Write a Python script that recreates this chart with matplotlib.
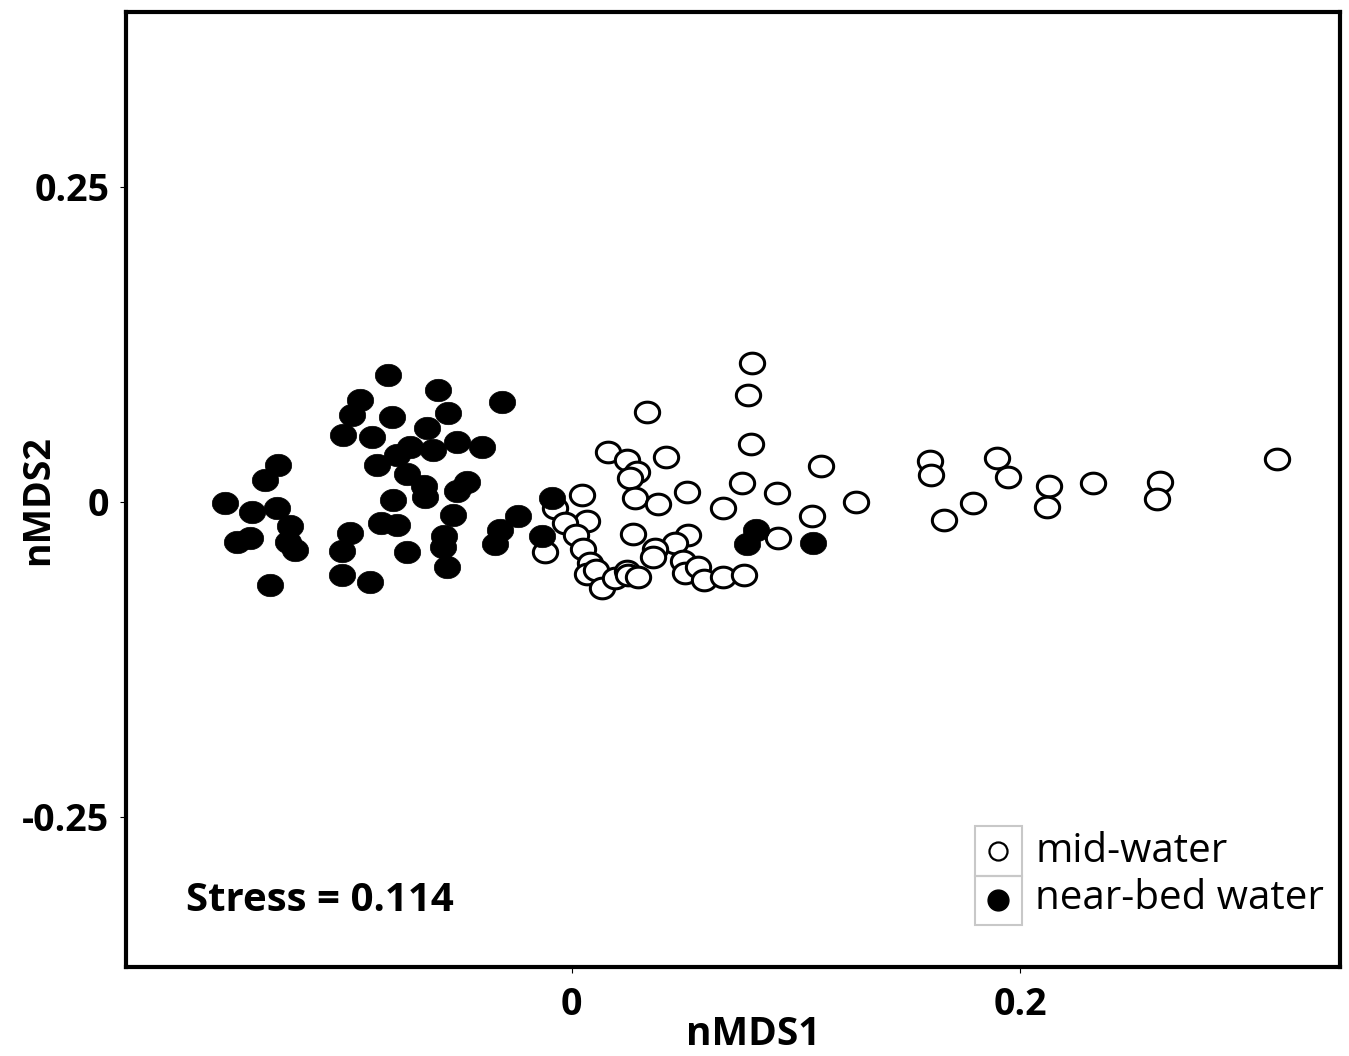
import numpy as np
import matplotlib
matplotlib.use("Agg")
import matplotlib.pyplot as plt
from matplotlib.path import Path
from matplotlib.patches import Rectangle

plt.rcParams['font.family'] = ['Open Sans', 'DejaVu Sans']

# nMDS scores
mid_x = [0.0805, 0.0787, 0.0337, 0.0800, 0.0163, 0.0247, 0.0421, 0.0292, 0.0261, 0.1113,
         0.0760, 0.0515, 0.0916, 0.0047, 0.0283, 0.0386, 0.0676, -0.0074, 0.1072, 0.0069,
         -0.0029, 0.0274, 0.0520, 0.0020, 0.0462, 0.0921, -0.0118, 0.0051, 0.0372, 0.0363,
         0.0082, 0.0069, 0.0109, 0.0136, 0.0194, 0.0247, 0.0252, 0.0297, 0.0497, 0.0506,
         0.0564, 0.0591, 0.0676, 0.0769, 0.1269, 0.1599, 0.1603, 0.1661, 0.1790, 0.1897,
         0.1946, 0.2129, 0.2120, 0.2326, 0.2624, 0.2611, 0.3146]
mid_y = [0.1100, 0.0845, 0.0710, 0.0456, 0.0393, 0.0329, 0.0353, 0.0234, 0.0187, 0.0282,
         0.0147, 0.0075, 0.0067, 0.0052, 0.0028, -0.0020, -0.0052, -0.0052, -0.0115, -0.0155,
         -0.0171, -0.0258, -0.0266, -0.0266, -0.0329, -0.0290, -0.0401, -0.0377, -0.0377, -0.0440,
         -0.0488, -0.0575, -0.0544, -0.0687, -0.0607, -0.0552, -0.0583, -0.0599, -0.0472, -0.0567,
         -0.0520, -0.0623, -0.0599, -0.0583, -0.0004, 0.0321, 0.0210, -0.0147, -0.0012, 0.0345,
         0.0194, 0.0123, -0.0044, 0.0147, 0.0155, 0.0020, 0.0337]

bed_x = [-0.1545, -0.1425, -0.1492, -0.1434, -0.1367, -0.1309, -0.1313, -0.1255, -0.1264, -0.1233,
         -0.1344, -0.0988, -0.1023, -0.1023, -0.0899, -0.0818, -0.0595, -0.0310, -0.0943, -0.0551,
         -0.0979, -0.0800, -0.0644, -0.1019, -0.0890, -0.0511, -0.0399, -0.0618, -0.0720, -0.0778,
         -0.0867, -0.0734, -0.0658, -0.0653, -0.0466, -0.0511, -0.0528, -0.0569, -0.0573, -0.0555,
         -0.0796, -0.0849, -0.0778, -0.0734, -0.0239, -0.0319, -0.0341, -0.0087, -0.0132, 0.0823,
         0.0783, 0.1077]
bed_y = [-0.0012, -0.0083, -0.0321, -0.0290, 0.0171, 0.0290, -0.0052, -0.0194, -0.0321, -0.0385,
         -0.0663, -0.0250, -0.0393, -0.0583, -0.0639, 0.1004, 0.0885, 0.0790, 0.0806, 0.0702,
         0.0687, 0.0671, 0.0583, 0.0528, 0.0512, 0.0472, 0.0433, 0.0409, 0.0433, 0.0369,
         0.0290, 0.0218, 0.0123, 0.0036, 0.0155, 0.0083, -0.0107, -0.0274, -0.0361, -0.0520,
         0.0012, -0.0171, -0.0187, -0.0401, -0.0115, -0.0226, -0.0337, 0.0028, -0.0274, -0.0226,
         -0.0337, -0.0329]

stress = 0.114

# slightly flattened circle, like the original
t = np.linspace(0, 2 * np.pi, 60)
ell = Path(np.column_stack([np.cos(t), 0.85 * np.sin(t)]), closed=True)

fig = plt.figure(figsize=(13.49, 10.56), dpi=100)
ax = fig.add_axes([0.0934, 0.0843, 0.9, 0.9043])

ax.scatter(mid_x, mid_y, marker=ell, s=17.5**2, facecolor='white', edgecolor='black', linewidth=2.2, zorder=3)
ax.scatter(bed_x, bed_y, marker=ell, s=19**2, facecolor='black', edgecolor='black', linewidth=0.5, zorder=4)

ax.set_xlim(-0.1987, 0.3427)
ax.set_ylim(-0.3694, 0.3885)
ax.set_xticks([0, 0.2])
ax.set_xticklabels(['0', '0.2'])
ax.set_yticks([-0.25, 0, 0.25])
ax.set_yticklabels(['-0.25', '0', '0.25'])
ax.tick_params(length=4, width=0.8, labelsize=27, pad=8)
ax.tick_params(axis='x', pad=10)
for lab in ax.get_xticklabels() + ax.get_yticklabels():
    lab.set_fontweight('bold')
for sp in ax.spines.values():
    sp.set_linewidth(3)

ax.text(0.517, -0.071, 'nMDS1', transform=ax.transAxes, fontsize=28, fontweight='bold',
        ha='center', va='center')
ax.text(-0.0725, 0.489, 'nMDS2', transform=ax.transAxes, fontsize=27, fontweight='bold',
        ha='center', va='center', rotation=90)

ax.text(0.0494, 0.07, 'Stress = %.3f' % stress, transform=ax.transAxes,
        fontsize=29, fontweight='bold', ha='left', va='center')

# legend drawn as a small two-cell box
gray = '#c8c8c8'
ax.add_patch(Rectangle((0.699, 0.044), 0.039, 0.0516, transform=ax.transAxes,
                       fill=False, edgecolor=gray, linewidth=1.5, zorder=5))
ax.add_patch(Rectangle((0.699, 0.0956), 0.039, 0.052, transform=ax.transAxes,
                       fill=False, edgecolor=gray, linewidth=1.5, zorder=5))
ax.scatter([0.7185], [0.121], transform=ax.transAxes, marker='o', s=13**2,
           facecolor='white', edgecolor='black', linewidth=1.6, zorder=6, clip_on=False)
ax.scatter([0.7185], [0.070], transform=ax.transAxes, marker='o', s=15**2,
           facecolor='black', edgecolor='black', zorder=6, clip_on=False)
ax.text(0.749, 0.121, 'mid-water', transform=ax.transAxes, fontsize=29, ha='left', va='center')
ax.text(0.749, 0.071, 'near-bed water', transform=ax.transAxes, fontsize=29, ha='left', va='center')

fig.savefig('out.png', dpi=100)
